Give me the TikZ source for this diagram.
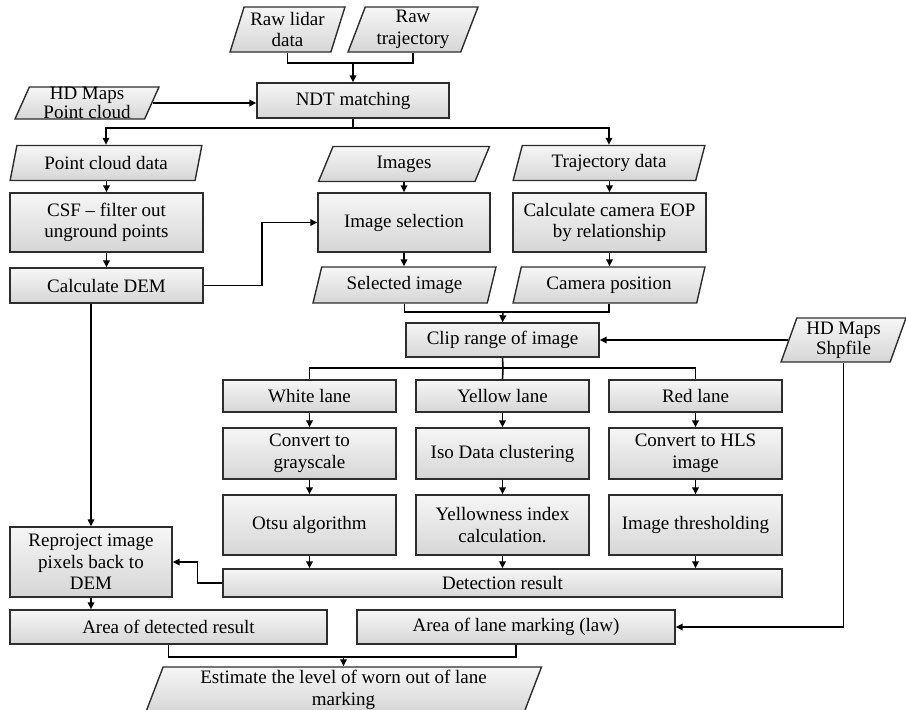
\documentclass[tikz,border=0pt]{standalone}
\usepackage{fontspec}
\setmainfont{Liberation Serif}
\usetikzlibrary{shapes.geometric,arrows.meta}
\definecolor{boxtop}{RGB}{246,246,246}
\definecolor{boxbot}{RGB}{214,214,214}
\definecolor{edgec}{RGB}{45,45,45}
\begin{document}
\begin{tikzpicture}[x=1pt,y=-1pt,
  box/.style={draw=edgec, line width=1.4pt, top color=boxtop, bottom color=boxbot,
    align=center, inner xsep=2pt, inner ysep=0pt, font=\fontsize{19}{21.5}\selectfont},
  proc/.style={box, rectangle},
  io/.style={box, trapezium, trapezium left angle=70, trapezium right angle=110,
    trapezium stretches=true},
  ln/.style={line width=1.6pt, draw=black},
  arr/.style={ln, -{Triangle[length=7pt,width=6.5pt]}}]
\useasboundingbox (0,0) rectangle (906,710);

% inputs
\node[io, minimum width=115, minimum height=45] (rawlidar) at (287.5,29.5) {Raw lidar\\data};
\node[io, minimum width=130, minimum height=45] (rawtraj) at (413,29.5) {Raw\\trajectory};
\node[io, minimum width=144, minimum height=32, font=\fontsize{19}{18.5}\selectfont] (hdpc) at (87,103) {HD Maps\\Point cloud};
\node[proc, minimum width=192, minimum height=35] (ndt) at (353,100.5) {NDT matching};

% row 2
\node[io, minimum width=192, minimum height=35] (pcd) at (106,163) {Point cloud data};
\node[io, minimum width=171, minimum height=35] (images) at (404,164) {Images};
\node[io, minimum width=192, minimum height=35] (traj) at (609,163) {Trajectory data};

\node[proc, minimum width=193, minimum height=59] (csf) at (106.5,222.5) {CSF -- filter out\\unground points};
\node[proc, minimum width=172, minimum height=59] (imgsel) at (404,222.5) {Image selection};
\node[proc, minimum width=193, minimum height=59] (eop) at (609.5,222.5) {Calculate camera EOP\\by relationship};

\node[proc, minimum width=193, minimum height=35] (dem) at (106.5,285.5) {Calculate DEM};
\node[io, minimum width=183, minimum height=36] (selimg) at (404.5,285) {Selected image};
\node[io, minimum width=192, minimum height=36] (campos) at (609,285) {Camera position};

\node[proc, minimum width=193, minimum height=34] (clip) at (502.5,340) {Clip range of image};
\node[io, minimum width=125, minimum height=44, font=\fontsize{19}{20}\selectfont] (hdshp) at (843.5,340) {HD Maps\\Shpfile};

% lanes
\node[proc, minimum width=173, minimum height=32] (white) at (309.5,396) {White lane};
\node[proc, minimum width=173, minimum height=32] (yellow) at (502.5,396) {Yellow lane};
\node[proc, minimum width=173, minimum height=32] (red) at (695.5,396) {Red lane};

\node[proc, minimum width=173, minimum height=51] (gray) at (309.5,453.5) {Convert to\\grayscale};
\node[proc, minimum width=173, minimum height=51] (iso) at (502.5,453.5) {Iso Data clustering};
\node[proc, minimum width=173, minimum height=51] (hls) at (695.5,453.5) {Convert to HLS\\image};

\node[proc, minimum width=173, minimum height=60] (otsu) at (309.5,525) {Otsu algorithm};
\node[proc, minimum width=173, minimum height=60] (yidx) at (502.5,525) {Yellowness index\\calculation.};
\node[proc, minimum width=173, minimum height=60] (thr) at (695.5,525) {Image thresholding};

\node[proc, minimum width=559, minimum height=28] (det) at (502.5,583) {Detection result};
\node[proc, minimum width=162, minimum height=70] (reproj) at (91,562) {Reproject image\\pixels back to\\DEM};

\node[proc, minimum width=317, minimum height=34] (areadet) at (168.5,627) {Area of detected result};
\node[proc, minimum width=318, minimum height=34] (arealaw) at (516,627) {Area of lane marking (law)};

\node[io, minimum width=397, minimum height=46] (est) at (343.5,690) {Estimate the level of worn out of lane\\marking};

% junction coordinates
\coordinate (j1) at (353,63);
\coordinate (j2) at (353,128);
\coordinate (j3) at (503,312);
\coordinate (j4) at (503,368);
\coordinate (j5) at (343.5,657);

% connectors
\draw[ln] (rawlidar.south -| rawlidar.center) |- (j1) -| (rawtraj.south -| rawtraj.center);
\draw[arr] (j1) -- (ndt.north);
\draw[arr] (hdpc.east) -- (ndt.west |- hdpc.east);
\draw[ln] (ndt.south) -- (j2);
\draw[arr] (j2) -| (pcd.north -| pcd.center);
\draw[arr] (j2) -| (traj.north -| traj.center);

\draw[arr] (pcd.south -| csf.north) -- (csf.north);
\draw[arr] (csf.south) -- (dem.north);
\draw[arr] (images.south -| imgsel.north) -- (imgsel.north);
\draw[arr] (imgsel.south) -- (imgsel.south |- selimg.north);
\draw[arr] (traj.south -| eop.north) -- (eop.north);
\draw[arr] (eop.south) -- (eop.south |- campos.north);
\draw[arr] (dem.east) -- ++(58,0) |- (imgsel.west);

\draw[ln] (selimg.south -| selimg.center) |- (j3) -| (campos.south -| campos.center);
\draw[arr] (j3) -- (clip.north);
\draw[arr] (hdshp.west) -- (clip.east |- hdshp.west);

\draw[ln] (clip.south) -- (j4);
\draw[ln] (j4) -| (white.north);
\draw[ln] (j4) -| (red.north);
\draw[ln] (j4) -- (yellow.north);

\draw[arr] (white.south) -- (gray.north);
\draw[arr] (gray.south) -- (otsu.north);
\draw[arr] (otsu.south) -- (otsu.south |- det.north);
\draw[arr] (yellow.south) -- (iso.north);
\draw[arr] (iso.south) -- (yidx.north);
\draw[arr] (yidx.south) -- (yidx.south |- det.north);
\draw[arr] (red.south) -- (hls.north);
\draw[arr] (hls.south) -- (thr.north);
\draw[arr] (thr.south) -- (thr.south |- det.north);

\draw[arr] (det.west) -- ++(-25,0) |- (reproj.east);
\draw[arr] (dem.south -| reproj.north) -- (reproj.north);
\draw[arr] (reproj.south) -- (reproj.south |- areadet.north);
\draw[arr] (hdshp.south -| hdshp.center) |- (arealaw.east);

\draw[ln] (areadet.south) |- (j5) -| (arealaw.south);
\draw[arr] (j5) -- (est.north -| est.center);
\end{tikzpicture}
\end{document}
